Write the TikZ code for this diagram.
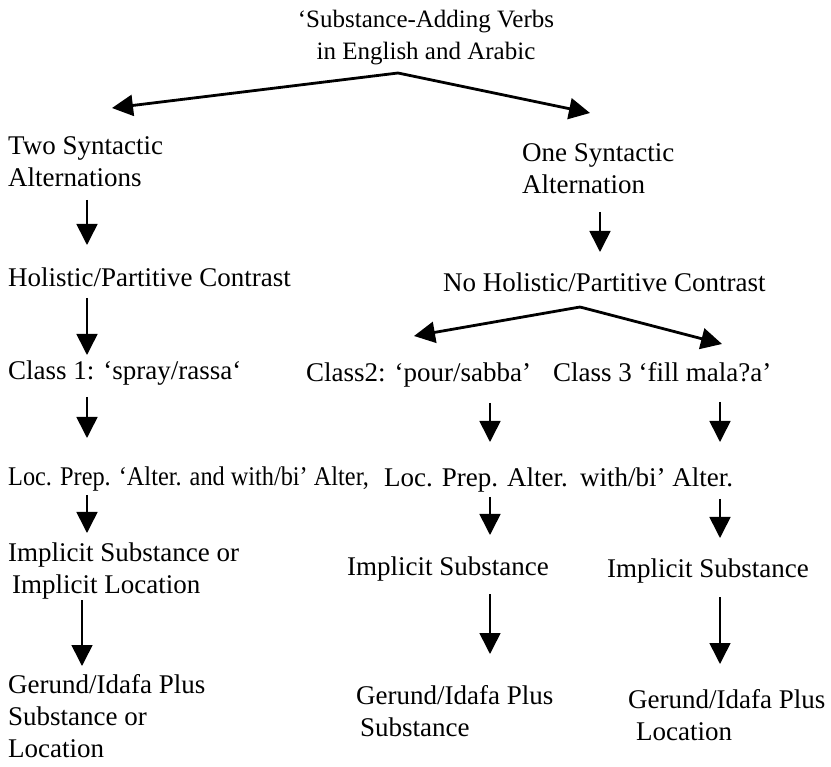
\documentclass[tikz,border=0pt]{standalone}
\usepackage{fontspec}
\setmainfont{Liberation Serif}
\newfontfamily\narrowserif{Liberation Serif}[FakeStretch=0.9]
\usetikzlibrary{arrows.meta}
\begin{document}
\begin{tikzpicture}[x=1pt,y=-1pt,
  lbl/.style={inner sep=0pt, anchor=base west, align=left, font=\fontsize{27}{32}\selectfont},
  ttl/.style={inner sep=0pt, anchor=base, align=center, font=\fontsize{25}{32}\selectfont},
  varr/.style={line width=1.6pt, -{Triangle[length=21pt,width=21pt]}},
  sarr/.style={line width=2.8pt, -{Triangle[length=21pt,width=21pt]}}]
\useasboundingbox (0,0) rectangle (831,767);
% texts (anchor = baseline of the last line)
\node[ttl] (title) at (426,60) {‘Substance-Adding Verbs\\in English and Arabic};
\node[lbl] (two) at (8,187) {Two Syntactic\\Alternations};
\node[lbl] (one) at (522,194) {One Syntactic\\Alternation};
\node[lbl] (hol) at (8,287) {Holistic/Partitive Contrast};
\node[lbl] (nohol) at (443,292) {No Holistic/Partitive Contrast};
\node[lbl] (c1) at (8,380) {Class 1: ‘spray/rassa‘};
\node[lbl] (c2) at (306,382) {Class2: ‘pour/sabba’};
\node[lbl] (c3) at (553,382) {Class 3 ‘fill mala?a’};
\node[lbl,font=\fontsize{27}{32}\narrowserif] (loc1) at (8,486) {Loc. Prep. ‘Alter. and with/bi’ Alter,};
\node[lbl] (loc2) at (384,487) {Loc. Prep. Alter.};
\node[lbl] (with3) at (580,487) {with/bi’ Alter.};
\node[lbl] (imp1) at (8,593) {Implicit Substance or\\\hspace*{4pt}Implicit Location};
\node[lbl] (imp2) at (347,575) {Implicit Substance};
\node[lbl] (imp3) at (607,577) {Implicit Substance};
\node[lbl] (ger1) at (8,757) {Gerund/Idafa Plus\\Substance or\\Location};
\node[lbl] (ger2) at (356,736) {Gerund/Idafa Plus\\\hspace*{4pt}Substance};
\node[lbl] (ger3) at (628,740) {Gerund/Idafa Plus\\\hspace*{8pt}Location};
% arrow end points
\coordinate (apex1) at (398,73);
\coordinate (tipL) at (112,108);
\coordinate (tipR) at (590,113);
\coordinate (apex2) at (580,307);
\coordinate (tipC2) at (414,336);
\coordinate (tipC3) at (722,344);
\coordinate (a1s) at (87,200);  \coordinate (a1e) at (87,245);
\coordinate (b1s) at (600,212); \coordinate (b1e) at (600,252);
\coordinate (a2s) at (87,298);  \coordinate (a2e) at (87,355);
\coordinate (a3s) at (87,397);  \coordinate (a3e) at (87,438);
\coordinate (m3s) at (490,403); \coordinate (m3e) at (490,442);
\coordinate (r3s) at (720,402); \coordinate (r3e) at (720,442);
\coordinate (a4s) at (87,495);  \coordinate (a4e) at (87,533);
\coordinate (m4s) at (490,497); \coordinate (m4e) at (490,535);
\coordinate (r4s) at (720,499); \coordinate (r4e) at (720,538);
\coordinate (a5s) at (82,600);  \coordinate (a5e) at (82,666);
\coordinate (m5s) at (490,594); \coordinate (m5e) at (490,654);
\coordinate (r5s) at (720,597); \coordinate (r5e) at (720,664);
% connectors
\draw[sarr] (apex1) -- (tipL);
\draw[sarr] (apex1) -- (tipR);
\draw[sarr] (apex2) -- (tipC2);
\draw[sarr] (apex2) -- (tipC3);
\draw[varr] (a1s) -- (a1e);
\draw[varr] (b1s) -- (b1e);
\draw[varr] (a2s) -- (a2e);
\draw[varr] (a3s) -- (a3e);
\draw[varr] (m3s) -- (m3e);
\draw[varr] (r3s) -- (r3e);
\draw[varr] (a4s) -- (a4e);
\draw[varr] (m4s) -- (m4e);
\draw[varr] (r4s) -- (r4e);
\draw[varr] (a5s) -- (a5e);
\draw[varr] (m5s) -- (m5e);
\draw[varr] (r5s) -- (r5e);
\end{tikzpicture}
\end{document}
